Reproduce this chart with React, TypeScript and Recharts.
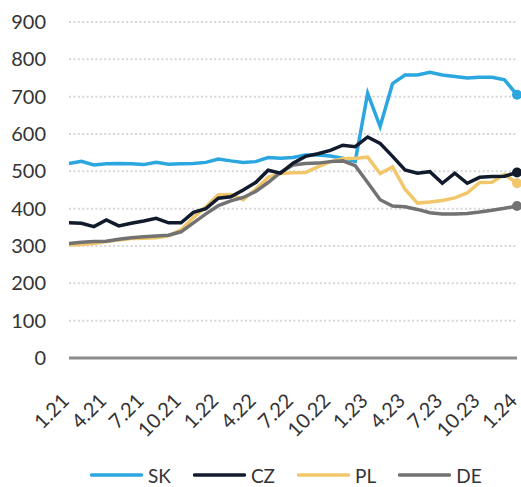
import React from "react";
import { LineChart, Line, XAxis, YAxis, CartesianGrid, Legend, ReferenceLine } from "recharts";

const months = [
  "1.21","2.21","3.21","4.21","5.21","6.21","7.21","8.21","9.21","10.21","11.21","12.21",
  "1.22","2.22","3.22","4.22","5.22","6.22","7.22","8.22","9.22","10.22","11.22","12.22",
  "1.23","2.23","3.23","4.23","5.23","6.23","7.23","8.23","9.23","10.23","11.23","12.23",
  "1.24",
];
const SK = [521,527,517,520,521,520,518,524,519,520,521,524,533,528,524,526,537,535,537,544,544,541,535,527,709,620,735,758,758,765,758,754,750,752,752,745,705];
const CZ = [362,361,352,370,354,361,367,374,362,362,390,400,428,432,450,470,503,495,522,540,547,556,570,566,592,575,540,504,495,499,468,495,468,484,486,487,497];
const PL = [303,304,307,312,316,320,321,322,327,343,376,405,437,438,424,452,484,494,496,497,512,526,534,535,538,494,512,452,415,418,422,429,442,470,471,492,468];
const DE = [307,310,312,313,318,322,325,327,329,338,362,386,408,421,430,446,470,497,517,521,522,526,528,515,470,424,407,405,398,389,386,386,387,391,396,401,407];
const yTicks = [0,100,200,300,400,500,600,700,800,900];

const series = [
  { key: "SK", color: "#2BA6DF" },
  { key: "CZ", color: "#111B2C" },
  { key: "PL", color: "#F2C76B" },
  { key: "DE", color: "#727272" },
];

const data = months.map((m, i) => ({ m, SK: SK[i], CZ: CZ[i], PL: PL[i], DE: DE[i] }));
const FONT = "Lato, 'Open Sans', sans-serif";

const lastIndex = months.length - 1;
const makeDot = (color: string) => (props: any) => {
  const { cx, cy, index } = props;
  if (index !== lastIndex) return <g key={`d${index}`} />;
  return <circle key={`d${index}`} cx={cx} cy={cy} r={5} fill={color} stroke="none" />;
};

const XTick = (props: any) => {
  const { x, y, payload } = props;
  const ax = x + 1.5;
  const ay = y + 42;
  return (
    <text x={ax} y={ay} transform={`rotate(-45, ${ax}, ${ay})`} textAnchor="end" fontSize={20} fill="#333" fontFamily={FONT}>
      {payload.value}
    </text>
  );
};

const LegendContent = () => (
  <div style={{ height: 24, display: "flex", alignItems: "center", paddingLeft: 90, fontFamily: FONT, fontSize: 19, color: "#333" }}>
    {series.map((s) => (
      <div key={s.key} style={{ display: "flex", alignItems: "center", marginRight: 22 }}>
        <svg width={53} height={6} style={{ marginRight: 5 }}>
          <line x1={1.5} y1={3} x2={51.5} y2={3} stroke={s.color} strokeWidth={3.5} strokeLinecap="round" />
        </svg>
        <span>{s.key}</span>
      </div>
    ))}
  </div>
);

export default function App() {
  return (
    <div style={{ position: "fixed", left: 0, top: 0, width: 521, height: 487, background: "#fff" }}>
      <LineChart width={521} height={487} data={data} margin={{ top: 22, right: 4, left: 0, bottom: 0 }}>
        <CartesianGrid vertical={false} stroke="#d6d6d6" strokeWidth={2} strokeDasharray="2 2.4" />
        <XAxis
          dataKey="m"
          interval={2}
          tick={<XTick />}
          tickLine={false}
          axisLine={false}
          tickSize={0}
          height={105}
        />
        <YAxis
          domain={[0, 900]}
          ticks={yTicks}
          width={69}
          axisLine={false}
          tickLine={false}
          tickMargin={17}
          tick={{ fontSize: 20, fill: "#333", fontFamily: FONT }}
        />
        <ReferenceLine y={0} stroke="#8c8c8c" strokeWidth={3} />
        <Legend verticalAlign="bottom" content={<LegendContent />} />
        {["SK", "PL", "DE", "CZ"].map((k) => {
          const s = series.find((x) => x.key === k)!;
          return (
            <Line
              key={k}
              dataKey={k}
              stroke={s.color}
              strokeWidth={3.5}
              dot={makeDot(s.color)}
              activeDot={false}
              isAnimationActive={false}
              type="linear"
            />
          );
        })}
      </LineChart>
    </div>
  );
}
